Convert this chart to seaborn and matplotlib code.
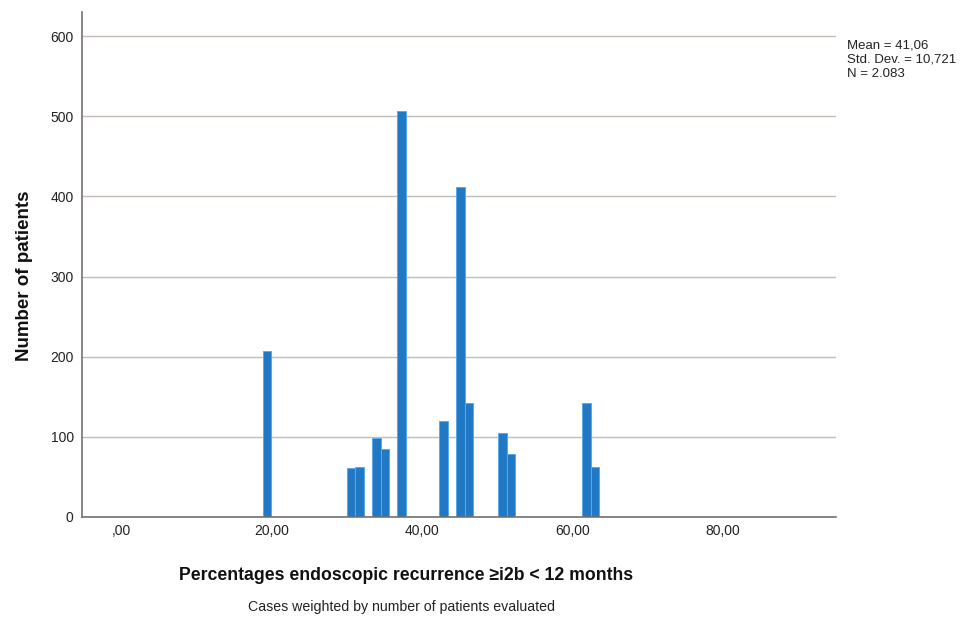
import numpy as np
import pandas as pd
import matplotlib
matplotlib.use("Agg")
import matplotlib.pyplot as plt
import seaborn as sns

# ---- data (bin centres of the histogram bars and weighted counts) ----
bin_start = 18.84
bin_width = 1.117
n_bins = 40
bar_values = [19.40, 30.57, 31.69, 33.92, 35.04, 37.27, 42.86, 45.09, 46.21,
              50.68, 51.79, 61.85, 62.96]
bar_counts = [207, 61, 63, 99, 85, 506, 120, 412, 142, 105, 79, 142, 62]
x_ticks = [0, 20, 40, 60, 80]
x_tick_labels = [",00", "20,00", "40,00", "60,00", "80,00"]
y_ticks = [0, 100, 200, 300, 400, 500, 600]
stats_text = "Mean = 41,06\nStd. Dev. = 10,721\nN = 2.083"

df = pd.DataFrame({"value": bar_values, "patients": bar_counts})

sns.set_theme(style="white")
plt.rcParams["font.family"] = ["Liberation Sans", "DejaVu Sans"]

fig = plt.figure(figsize=(9.66, 6.24), dpi=100)
ax = fig.add_axes([82 / 966, 1 - 517 / 624, (836 - 82) / 966, (517 - 12) / 624])

ax.set_axisbelow(True)
ax.yaxis.grid(True, color="#c6bcb5", linewidth=1.0)
ax.xaxis.grid(False)

sns.histplot(data=df, x="value", weights="patients",
             binwidth=bin_width, binrange=(bin_start, bin_start + n_bins * bin_width),
             color="#2179c6", edgecolor="#5aaae8", linewidth=0.7, alpha=1.0, ax=ax)

ax.set_xlim(-5.2, 95.0)
ax.set_ylim(0, 630)
ax.set_xticks(x_ticks)
ax.set_xticklabels(x_tick_labels)
ax.set_yticks(y_ticks)
ax.tick_params(axis="both", length=0, labelsize=10, colors="#222222")
ax.tick_params(axis="x", pad=5)
ax.tick_params(axis="y", pad=6)
ax.set_xlabel("")
ax.set_ylabel("")

for side in ["top", "right"]:
    ax.spines[side].set_visible(False)
for side in ["left", "bottom"]:
    ax.spines[side].set_color("#727272")
    ax.spines[side].set_linewidth(1.2)

fig.text(25 / 966, 1 - 276 / 624, "Number of patients", rotation=90,
         ha="center", va="center", fontsize=13.5, fontweight="bold", color="#111111")
fig.text(406 / 966, 1 - 576 / 624, "Percentages endoscopic recurrence \u2265i2b < 12 months",
         ha="center", va="center", fontsize=12.7, fontweight="bold", color="#111111")
fig.text(402 / 966, 1 - 607 / 624, "Cases weighted by number of patients evaluated",
         ha="center", va="center", fontsize=10.2, color="#222222")
fig.text(847 / 966, 1 - 40 / 624, stats_text, ha="left", va="top",
         fontsize=9.5, linespacing=1.22, color="#222222")

fig.savefig("out.png", dpi=100)
